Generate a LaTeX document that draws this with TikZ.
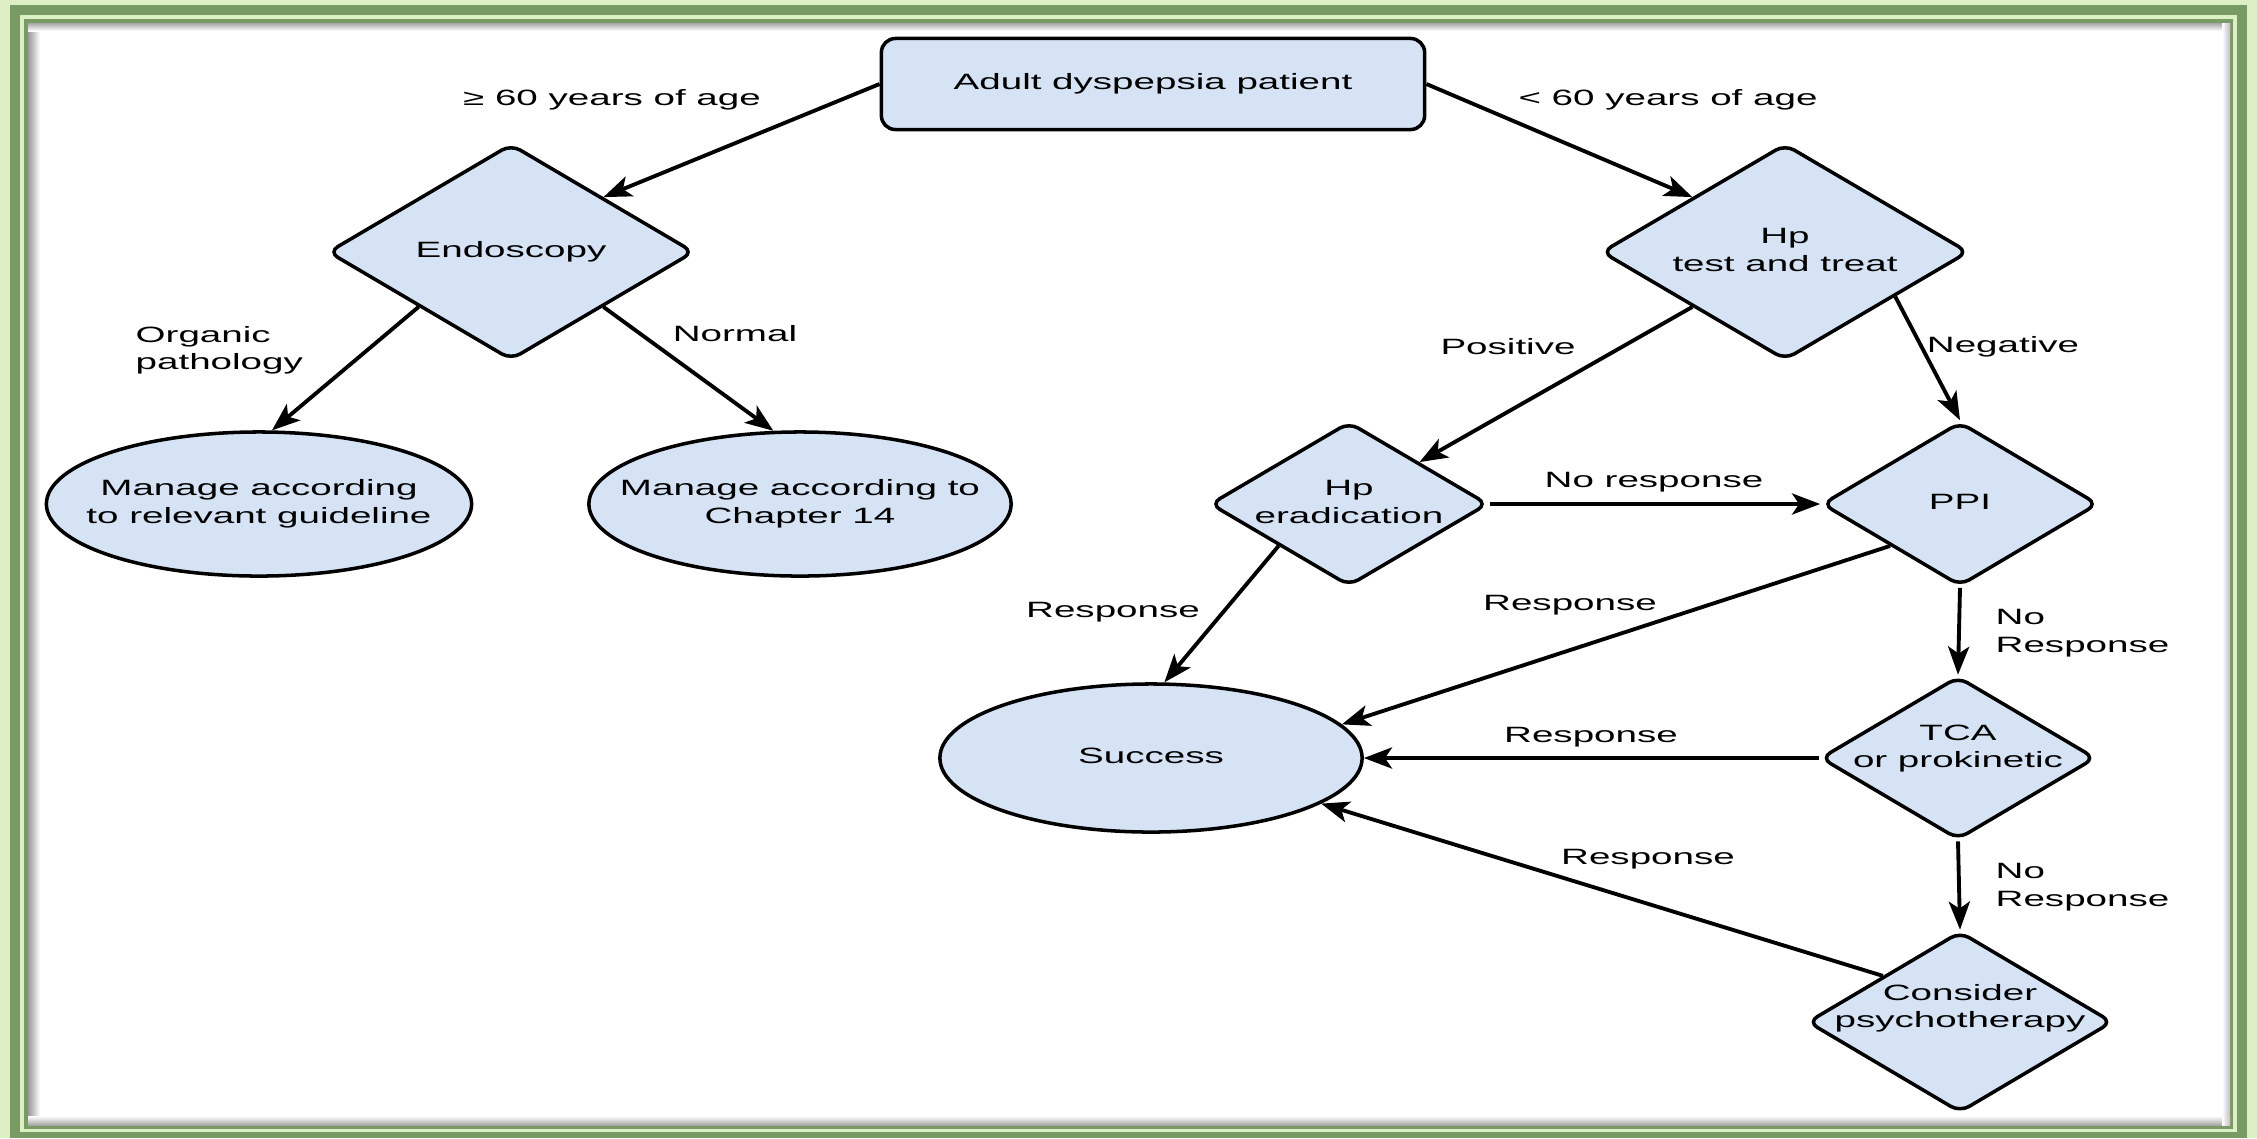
\documentclass[tikz,border=0pt]{standalone}
\usepackage{fontspec}
\setmainfont[FakeStretch=1.74]{Liberation Sans}
\usetikzlibrary{shapes.geometric,arrows.meta}

\definecolor{boxblue}{RGB}{214,227,245}
\definecolor{framedark}{RGB}{122,154,101}
\definecolor{framelight}{RGB}{221,240,197}

\newcommand{\ntext}[1]{\makebox[0pt]{\begin{tabular}{@{}c@{}}#1\end{tabular}}}

\tikzset{
    rbox/.style={rectangle, draw, fill=boxblue, rounded corners=4pt, line width=1pt},
    dia/.style={diamond, draw, fill=boxblue, rounded corners=3pt, inner sep=0, line width=1pt},
    ell/.style={ellipse, draw, fill=boxblue, inner sep=0, line width=1pt},
    lab/.style={inner sep=0},
    arr/.style={-{Stealth[length=8pt,width=6pt,inset=2pt]}, line width=1.1pt}
    }

\begin{document}
\begin{tikzpicture}[x=0.01cm, y=-0.01cm, font=\fontsize{6.3}{7.8}\selectfont]
                % The Frame
                \useasboundingbox (0,0) rectangle (2257,1138);
                \fill[framelight] (0,0) rectangle (2257,1138);
                \fill[framedark] (10,5) rectangle (2247,1138);
                \fill[framelight] (20,15) rectangle (2237,1132);
                \fill[framedark] (24,19) rectangle (2233,1129);
                \fill[white] (28,23) rectangle (2230,1125);
                \shade[left color=gray!80, right color=white] (28,23) rectangle (40,1125);
                \shade[top color=gray!70, bottom color=white] (28,23) rectangle (2230,31);
                \shade[bottom color=gray!70, top color=white] (28,1116) rectangle (2230,1125);
                \shade[right color=gray!50, left color=white] (2222,23) rectangle (2230,1125);

                % The Boxes
                \node (adult)[rbox, minimum width=5.43cm, minimum height=0.91cm] at (1153,84) {\ntext{Adult dyspepsia patient}};
                \node (endo)[dia, minimum width=3.66cm, minimum height=2.16cm] at (511,252) {\ntext{Endoscopy}};
                \node (hp)[dia, minimum width=3.67cm, minimum height=2.16cm] at (1785,252) {\ntext{Hp\\test and treat}};
                \node (guide)[ell, minimum width=4.25cm, minimum height=1.44cm] at (259,504) {\ntext{Manage according\\to relevant guideline}};
                \node (ch14)[ell, minimum width=4.22cm, minimum height=1.44cm] at (800,504) {\ntext{Manage according to\\Chapter 14}};
                \node (erad)[dia, minimum width=2.78cm, minimum height=1.64cm] at (1349,504) {\ntext{Hp\\eradication}};
                \node (ppi)[dia, minimum width=2.76cm, minimum height=1.64cm] at (1960,504) {\ntext{PPI}};
                \node (succ)[ell, minimum width=4.22cm, minimum height=1.48cm] at (1151,758) {\ntext{Success}};
                \node (tca)[dia, minimum width=2.75cm, minimum height=1.63cm, text height=0pt, text depth=2.4pt] at (1958,758) {\ntext{TCA\\or prokinetic}};
                \node (psy)[dia, minimum width=3.05cm, minimum height=1.81cm, text height=0pt, text depth=4.8pt] at (1960,1022) {\ntext{Consider\\psychotherapy}};

                % The Labels
                \node (ge)[lab] at (612,100) {≥ 60 years of age};
                \node (lt)[lab] at (1668,100) {< 60 years of age};
                \node (org)[lab, anchor=west, align=left] at (135,350) {Organic\\pathology};
                \node (norm)[lab] at (735,334) {Normal};
                \node (pos)[lab] at (1508,347) {Positive};
                \node (neg)[lab] at (2003,347) {Negative};
                \node (nr1)[lab] at (1654,482) {No response};
                \node (r1)[lab] at (1113,612) {Response};
                \node (r2)[lab] at (1570,605) {Response};
                \node (nr2)[lab, anchor=west, align=left] at (1995,633) {No\\Response};
                \node (r3)[lab] at (1591,737) {Response};
                \node (nr3)[lab, anchor=west, align=left] at (1995,887) {No\\Response};
                \node (r4)[lab] at (1648,859) {Response};

                % The Arrows
                \draw[arr] (adult.west) -- (endo.north east);
                \draw[arr] (adult.east) -- (hp.north west);
                \draw[arr] (endo.south west) -- (guide.80);
                \draw[arr] (endo.south east) -- (ch14.110);
                \draw[arr] (hp.south west) -- (erad.north east);
                \draw[arr] (hp.-22) -- (ppi.north);
                \draw[arr] (erad.east) -- (ppi.west);
                \draw[arr] (erad.south west) -- (succ.80);
                \draw[arr] (ppi.south west) -- (succ.10);
                \draw[arr] (ppi.south) -- (tca.north);
                \draw[arr] (tca.west) -- (succ.east);
                \draw[arr] (tca.south) -- (psy.north);
                \draw[arr] (psy.north west) -- (succ.-15);
            \end{tikzpicture}
\end{document}
